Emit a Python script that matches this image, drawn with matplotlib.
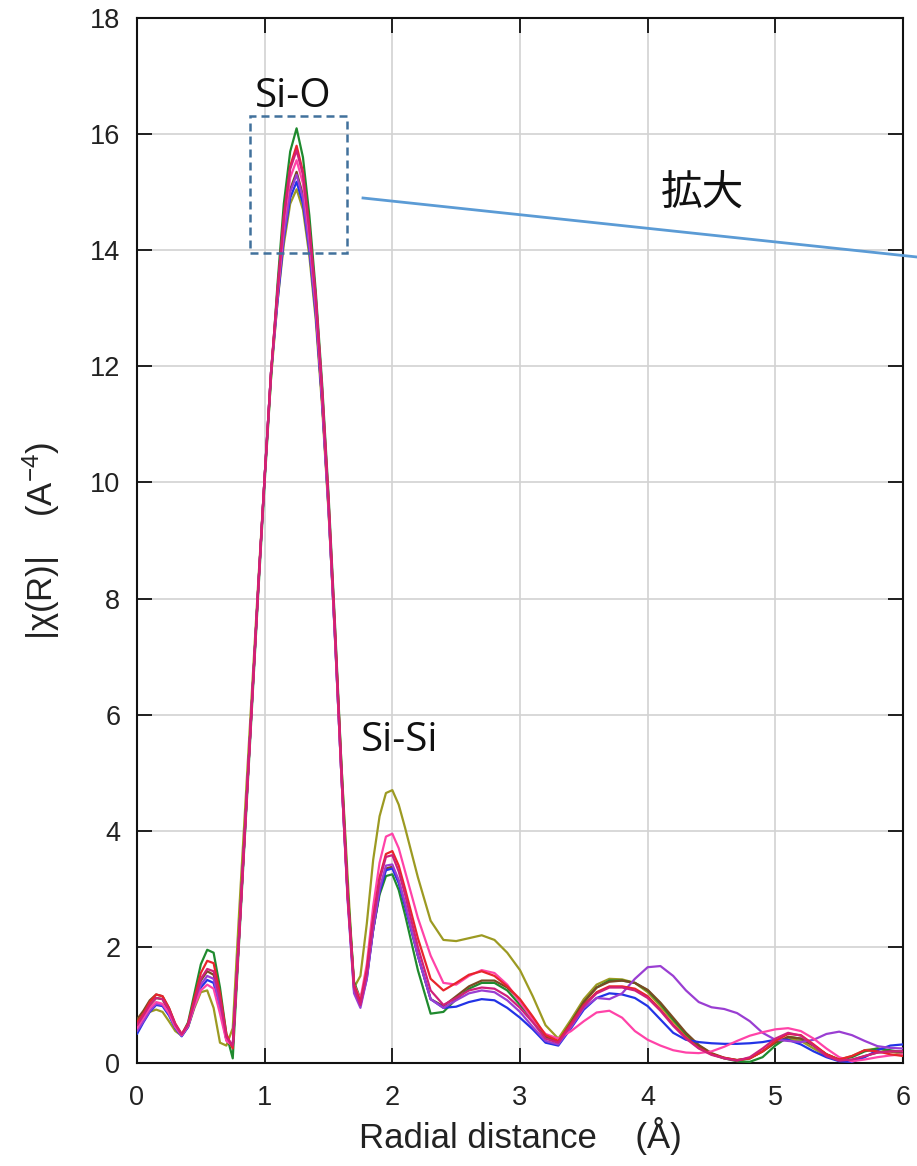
import matplotlib
matplotlib.use("Agg")
import matplotlib.pyplot as plt
from matplotlib.patches import Rectangle
from matplotlib.lines import Line2D

plt.rcParams["mathtext.fontset"] = "custom"
plt.rcParams["mathtext.rm"] = "Liberation Sans"
plt.rcParams["mathtext.it"] = "Liberation Sans:italic"
plt.rcParams["mathtext.bf"] = "Liberation Sans:bold"

# Radial distance grid (Å)
r = [0.00, 0.05, 0.10, 0.15, 0.20, 0.25, 0.30, 0.35, 0.40, 0.45, 0.50, 0.55, 0.60, 0.65, 0.70, 0.75,
     0.80, 0.85, 0.90, 0.95, 1.00, 1.05, 1.10, 1.15, 1.20, 1.25, 1.30, 1.35, 1.40, 1.45, 1.50, 1.55,
     1.60, 1.65, 1.70,
     1.75, 1.80, 1.85, 1.90, 1.95, 2.00, 2.05, 2.10,
     2.2, 2.3, 2.4, 2.5, 2.6, 2.7, 2.8, 2.9, 3.0, 3.1, 3.2, 3.3, 3.4, 3.5, 3.6, 3.7, 3.8, 3.9, 4.0,
     4.1, 4.2, 4.3, 4.4, 4.5, 4.6, 4.7, 4.8, 4.9, 5.0, 5.1, 5.2, 5.3, 5.4, 5.5, 5.6, 5.7, 5.8, 5.9, 6.0]

# |chi(R)| for each sample
chi_olive = [0.72, 0.80, 0.88, 0.92, 0.88, 0.72, 0.55, 0.47, 0.62, 0.95, 1.22, 1.25, 0.95, 0.35, 0.30, 0.60,
             2.60, 4.50, 6.40, 8.30, 10.10, 11.80, 13.10, 14.10, 14.80, 15.05, 14.70, 13.90, 12.80, 11.30, 9.50, 7.40,
             5.20, 3.20, 1.30,
             1.50, 2.40, 3.50, 4.25, 4.65, 4.70, 4.45, 4.05,
             3.20, 2.45, 2.12, 2.10, 2.15, 2.20, 2.12, 1.90, 1.60, 1.15, 0.65, 0.42, 0.75, 1.10, 1.35, 1.45, 1.44, 1.38, 1.22,
             0.98, 0.72, 0.48, 0.28, 0.15, 0.08, 0.05, 0.08, 0.20, 0.35, 0.42, 0.38, 0.25, 0.12, 0.06, 0.12, 0.22, 0.25, 0.20, 0.15]

chi_green = [0.62, 0.80, 1.00, 1.12, 1.10, 0.88, 0.62, 0.48, 0.70, 1.20, 1.70, 1.95, 1.90, 1.30, 0.50, 0.08,
             2.10, 4.10, 6.10, 8.10, 10.00, 11.80, 13.40, 14.80, 15.70, 16.10, 15.60, 14.60, 13.30, 11.70, 9.80, 7.60,
             5.20, 3.00, 1.40,
             1.10, 1.55, 2.30, 2.90, 3.22, 3.25, 2.98, 2.55,
             1.60, 0.85, 0.88, 1.10, 1.28, 1.38, 1.38, 1.25, 1.00, 0.75, 0.45, 0.35, 0.70, 1.05, 1.30, 1.42, 1.42, 1.38, 1.25,
             1.02, 0.75, 0.50, 0.30, 0.16, 0.08, 0.03, 0.02, 0.10, 0.30, 0.45, 0.42, 0.30, 0.15, 0.06, 0.10, 0.20, 0.25, 0.22, 0.18]

chi_brown = [0.75, 0.90, 1.08, 1.18, 1.15, 0.95, 0.66, 0.48, 0.66, 1.05, 1.42, 1.58, 1.52, 1.05, 0.40, 0.28,
             2.20, 4.20, 6.20, 8.20, 10.10, 11.90, 13.20, 14.30, 15.05, 15.35, 14.95, 14.10, 13.00, 11.40, 9.60, 7.40,
             5.00, 2.90, 1.35,
             1.05, 1.50, 2.30, 2.95, 3.35, 3.38, 3.12, 2.72,
             1.85, 1.10, 0.98, 1.15, 1.32, 1.42, 1.42, 1.30, 1.08, 0.78, 0.46, 0.36, 0.70, 1.05, 1.30, 1.40, 1.42, 1.38, 1.26,
             1.04, 0.78, 0.52, 0.31, 0.17, 0.09, 0.05, 0.08, 0.20, 0.35, 0.45, 0.42, 0.30, 0.15, 0.05, 0.05, 0.12, 0.18, 0.20, 0.20]

chi_blue = [0.50, 0.70, 0.88, 1.00, 0.98, 0.82, 0.60, 0.46, 0.62, 0.98, 1.30, 1.43, 1.38, 0.95, 0.40, 0.30,
            2.20, 4.20, 6.20, 8.20, 10.10, 11.90, 13.10, 14.20, 14.90, 15.18, 14.80, 14.00, 12.90, 11.40, 9.55, 7.35,
            5.00, 2.85, 1.25,
            1.00, 1.45, 2.30, 2.95, 3.32, 3.35, 3.10, 2.70,
            1.85, 1.10, 0.95, 0.97, 1.05, 1.10, 1.08, 0.95, 0.78, 0.58, 0.35, 0.30, 0.60, 0.92, 1.12, 1.20, 1.18, 1.12, 0.98,
            0.75, 0.52, 0.40, 0.36, 0.34, 0.33, 0.33, 0.34, 0.36, 0.40, 0.40, 0.32, 0.20, 0.10, 0.03, 0.02, 0.10, 0.22, 0.30, 0.32]

chi_purple = [0.55, 0.72, 0.90, 1.02, 1.00, 0.85, 0.62, 0.47, 0.64, 1.02, 1.35, 1.50, 1.45, 1.00, 0.40, 0.28,
              2.20, 4.20, 6.20, 8.20, 10.10, 11.90, 13.20, 14.25, 15.00, 15.30, 14.90, 14.05, 12.95, 11.40, 9.55, 7.35,
              5.00, 2.80, 1.20,
              0.95, 1.45, 2.30, 3.00, 3.40, 3.42, 3.15, 2.75,
              1.85, 1.10, 0.95, 1.08, 1.20, 1.25, 1.22, 1.08, 0.88, 0.62, 0.38, 0.32, 0.62, 0.95, 1.12, 1.10, 1.20, 1.45, 1.65,
              1.67, 1.50, 1.25, 1.05, 0.96, 0.93, 0.86, 0.72, 0.52, 0.40, 0.38, 0.36, 0.40, 0.50, 0.54, 0.48, 0.38, 0.29, 0.26, 0.25]

chi_pink = [0.60, 0.78, 0.95, 1.05, 1.02, 0.86, 0.62, 0.48, 0.64, 0.98, 1.25, 1.35, 1.28, 0.85, 0.38, 0.30,
            2.20, 4.20, 6.20, 8.20, 10.10, 11.90, 13.20, 14.45, 15.25, 15.55, 15.15, 14.25, 13.10, 11.50, 9.60, 7.40,
            5.00, 2.85, 1.35,
            1.10, 1.70, 2.70, 3.45, 3.90, 3.95, 3.70, 3.30,
            2.50, 1.85, 1.38, 1.35, 1.50, 1.60, 1.55, 1.35, 1.05, 0.75, 0.50, 0.42, 0.55, 0.72, 0.87, 0.90, 0.78, 0.55, 0.40,
            0.30, 0.22, 0.18, 0.17, 0.20, 0.28, 0.38, 0.47, 0.53, 0.58, 0.60, 0.55, 0.42, 0.25, 0.10, 0.03, 0.06, 0.10, 0.13, 0.15]

chi_red = [0.70, 0.85, 1.05, 1.18, 1.15, 0.95, 0.68, 0.50, 0.68, 1.12, 1.55, 1.76, 1.72, 1.20, 0.50, 0.25,
           2.20, 4.20, 6.20, 8.20, 10.10, 11.90, 13.30, 14.60, 15.45, 15.80, 15.35, 14.40, 13.20, 11.60, 9.70, 7.50,
           5.10, 2.90, 1.35,
           1.05, 1.60, 2.50, 3.20, 3.60, 3.65, 3.40, 3.00,
           2.15, 1.45, 1.25, 1.38, 1.52, 1.58, 1.50, 1.32, 1.10, 0.80, 0.48, 0.38, 0.68, 1.00, 1.22, 1.32, 1.32, 1.28, 1.15,
           0.92, 0.66, 0.44, 0.26, 0.15, 0.09, 0.05, 0.08, 0.20, 0.38, 0.50, 0.48, 0.32, 0.15, 0.06, 0.12, 0.22, 0.20, 0.15, 0.12]

chi_crimson = [0.65, 0.82, 1.00, 1.12, 1.10, 0.92, 0.66, 0.49, 0.66, 1.05, 1.45, 1.62, 1.58, 1.10, 0.45, 0.30,
               2.20, 4.20, 6.20, 8.20, 10.10, 11.90, 13.30, 14.55, 15.40, 15.72, 15.30, 14.35, 13.20, 11.60, 9.70, 7.50,
               5.10, 2.90, 1.30,
               1.00, 1.55, 2.45, 3.15, 3.55, 3.58, 3.30, 2.90,
               2.00, 1.25, 1.00, 1.12, 1.25, 1.30, 1.28, 1.15, 0.95, 0.70, 0.42, 0.35, 0.65, 0.98, 1.20, 1.30, 1.30, 1.25, 1.12,
               0.90, 0.64, 0.42, 0.25, 0.14, 0.08, 0.04, 0.10, 0.25, 0.42, 0.52, 0.47, 0.30, 0.12, 0.04, 0.06, 0.12, 0.18, 0.20, 0.20]

series = [
    (chi_olive, "#9c9a22"),
    (chi_green, "#1f8a2e"),
    (chi_brown, "#7a4b22"),
    (chi_blue, "#2233e6"),
    (chi_purple, "#9a3ed2"),
    (chi_pink, "#ff43a8"),
    (chi_red, "#e8252c"),
    (chi_crimson, "#d0207a"),
]

x_ticks = [0, 1, 2, 3, 4, 5, 6]
y_ticks = [0, 2, 4, 6, 8, 10, 12, 14, 16, 18]

W, H = 917, 1166
fig = plt.figure(figsize=(W / 100, H / 100), dpi=100)
ax = fig.add_axes([137 / W, 1 - 1063 / H, (903 - 137) / W, (1063 - 18) / H])

for vals, col in series:
    ax.plot(r, vals, color=col, lw=1.6, solid_joinstyle="round", solid_capstyle="round", zorder=3)

ax.set_xlim(0, 6)
ax.set_ylim(0, 18)
ax.set_xticks(x_ticks)
ax.set_yticks(y_ticks)
ax.grid(True, color="#d2d2d2", lw=1.2, zorder=0)
ax.set_axisbelow(True)

for s in ax.spines.values():
    s.set_linewidth(1.5)
    s.set_color("#111111")

ax.tick_params(direction="in", length=10.5, width=1.3, top=True, right=True,
               labelsize=19.5, colors="#111111")
ax.tick_params(axis="x", pad=16)
ax.tick_params(axis="y", pad=12)
for lab in ax.get_xticklabels() + ax.get_yticklabels():
    lab.set_family("Liberation Sans")
    lab.set_color("#222222")

ax.set_xlabel("Radial distance    (Å)", fontsize=25, family="Liberation Sans", color="#222222")
ax.xaxis.set_label_coords(0.5, -0.052)
ax.set_ylabel("|χ(R)|    (A$^{\\mathrm{-4}}$)", fontsize=25, family="Liberation Sans", color="#222222")
ax.yaxis.set_label_coords(-0.098, 0.5)

# Peak labels
ax.text(1.222, 16.64, "Si-O", fontsize=29, family="Open Sans", ha="center", va="center",
        color="#111111", zorder=5)
ax.text(2.06, 5.55, "Si-Si", fontsize=29, family="Open Sans", ha="center", va="center",
        color="#111111", zorder=5)

# Dashed box around the Si-O maximum
ax.add_patch(Rectangle((0.885, 13.95), 1.645 - 0.885, 16.31 - 13.95, fill=False,
                       ls=(0, (3.2, 2)), lw=1.8, edgecolor="#41719c", zorder=6))

# Pointer line leading to the enlarged view
fig.add_artist(Line2D([363 / W, 1.0], [1 - 198 / H, 1 - 257 / H], color="#5b9bd5",
                      lw=2.0, transform=fig.transFigure))

ax.text(4.43, 14.97, "拡大", fontsize=30, family=["Noto Sans CJK JP", "DejaVu Sans"],
        ha="center", va="center", color="#111111", zorder=5)

fig.savefig("out.png", dpi=100, facecolor="white")
